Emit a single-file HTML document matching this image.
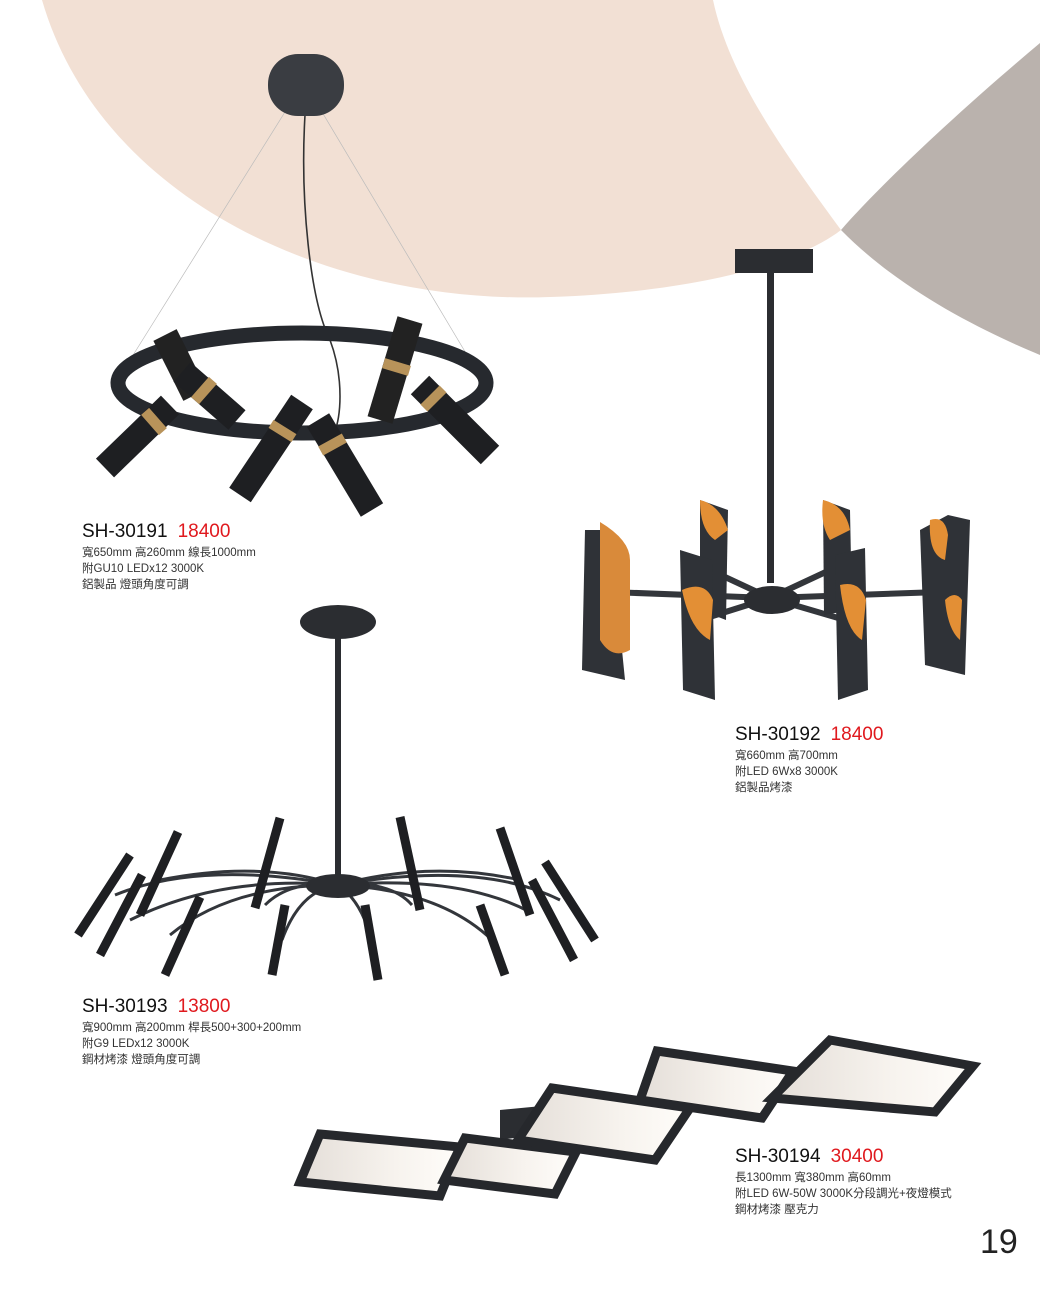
<!DOCTYPE html>
<html><head><meta charset="utf-8"><style>
html,body{margin:0;padding:0;background:#fff}
#p{position:relative;width:1040px;height:1300px;overflow:hidden;background:#fff;font-family:"Liberation Sans","Noto Sans CJK TC",sans-serif;color:#222}
svg{position:absolute;left:0;top:0}
.t{position:absolute;line-height:16px;font-size:11.5px;color:#333}
.t b{display:block;font-weight:normal;font-size:19px;line-height:22px;color:#111;margin-bottom:2px}
.t b span{color:#e0191e;margin-left:10px}
</style></head><body><div id="p">
<svg width="1040" height="1300" viewBox="0 0 1040 1300">
<defs><linearGradient id="g" x1="0" y1="0" x2="1" y2="0"><stop offset="0" stop-color="#e4ded8"/><stop offset="0.6" stop-color="#f7f3ee"/><stop offset="1" stop-color="#fffdfa"/></linearGradient></defs>
<path d="M42,0 C100,200 330,305 550,297 C700,292 800,262 841,230 C790,160 730,80 713,0 Z" fill="#f2e0d4"/>
<path d="M1040,43 C960,110 880,185 841,230 C900,290 980,330 1040,355 Z" fill="#bab2ad"/>
<!-- lamp 1 -->
<g stroke="#bbb" stroke-width="0.7"><line x1="285" y1="112" x2="130" y2="360"/><line x1="322" y1="112" x2="470" y2="360"/></g>
<path d="M305,115 C300,200 310,300 330,340 C345,380 340,420 335,430" stroke="#333" stroke-width="1.6" fill="none"/>
<rect x="268" y="54" width="76" height="62" rx="30" fill="#3a3d42"/>
<ellipse cx="302" cy="383" rx="184" ry="50" fill="none" stroke="#26292e" stroke-width="15"/>
<g stroke-linecap="butt" stroke-width="26">
<line x1="165" y1="335" x2="195" y2="395" stroke="#222"/>
<line x1="410" y1="320" x2="380" y2="420" stroke="#222"/>
<line x1="105" y1="468" x2="170" y2="405" stroke="#1e1f22"/>
<line x1="182" y1="372" x2="237" y2="420" stroke="#1e1f22"/>
<line x1="240" y1="495" x2="302" y2="402" stroke="#1e1f22"/>
<line x1="318" y1="420" x2="372" y2="510" stroke="#1e1f22"/>
<line x1="420" y1="385" x2="490" y2="455" stroke="#1e1f22"/>
</g>
<g stroke="#b8935a" stroke-width="27">
<line x1="150" y1="425" x2="158" y2="418"/><line x1="200" y1="387" x2="208" y2="394"/>
<line x1="280" y1="435" x2="285" y2="427"/><line x1="330" y1="440" x2="335" y2="449"/>
<line x1="430" y1="395" x2="437" y2="402"/><line x1="395" y1="372" x2="398" y2="362"/>
</g>
<!-- lamp 2 -->
<rect x="735" y="249" width="78" height="24" fill="#2b2d31"/>
<rect x="767" y="273" width="7" height="310" fill="#2b2d31"/>
<g stroke="#33363b" stroke-width="6">
<line x1="770" y1="598" x2="610" y2="592"/><line x1="770" y1="598" x2="940" y2="592"/>
<line x1="770" y1="598" x2="710" y2="570"/><line x1="770" y1="598" x2="830" y2="570"/>
<line x1="770" y1="598" x2="700" y2="620"/><line x1="770" y1="598" x2="845" y2="620"/>
</g>
<ellipse cx="772" cy="600" rx="28" ry="14" fill="#2b2d31"/>
<g fill="#2f3237">
<path d="M585,530 L610,530 L625,680 L582,670 Z"/><path d="M600,522 Q630,540 630,560 L630,650 Q612,660 600,640 Z" fill="#d98a3a"/>
<path d="M700,500 L728,510 L726,620 L700,610 Z"/><path d="M680,550 L712,560 L715,700 L683,690 Z"/>
<path d="M823,500 L850,510 L852,610 L824,615 Z"/><path d="M835,555 L865,548 L868,690 L838,700 Z"/>
<path d="M920,530 L948,515 L970,520 L965,675 L925,665 Z"/>
</g>
<g fill="#e38f35">
<path d="M700,500 Q720,505 728,530 L715,540 Q700,530 700,500 Z"/><path d="M823,500 Q845,505 850,530 L830,540 Q820,525 823,500 Z"/>
<path d="M682,590 Q705,580 713,600 L710,640 Q690,630 682,590 Z"/><path d="M840,585 Q860,580 866,600 L862,640 Q845,630 840,585 Z"/>
<path d="M930,520 Q945,515 948,535 L945,560 Q928,555 930,520 Z"/><path d="M945,600 Q955,590 962,600 L960,640 Q948,630 945,600 Z"/>
</g>
<!-- lamp 3 -->
<ellipse cx="338" cy="622" rx="38" ry="17" fill="#2b2d31"/>
<rect x="335" y="635" width="6" height="245" fill="#2b2d31"/>
<g stroke="#33363b" stroke-width="3" fill="none">
<path d="M338,885 Q200,860 115,895"/><path d="M338,885 Q220,875 130,920"/><path d="M338,885 Q230,885 170,935"/>
<path d="M338,885 Q290,880 265,905"/><path d="M338,885 Q300,890 282,940"/><path d="M338,885 Q360,900 370,935"/>
<path d="M338,885 Q390,880 412,905"/><path d="M338,885 Q440,890 492,940"/><path d="M338,885 Q460,875 530,912"/>
<path d="M338,885 Q480,860 560,900"/><path d="M338,885 Q260,860 160,880"/><path d="M338,885 Q430,860 520,880"/>
</g>
<ellipse cx="338" cy="886" rx="32" ry="12" fill="#2b2d31"/>
<g stroke="#1e1f22" stroke-width="9">
<line x1="78" y1="935" x2="130" y2="855"/><line x1="100" y1="955" x2="142" y2="875"/><line x1="140" y1="915" x2="178" y2="832"/>
<line x1="165" y1="975" x2="200" y2="897"/><line x1="255" y1="908" x2="280" y2="818"/><line x1="272" y1="975" x2="285" y2="905"/>
<line x1="378" y1="980" x2="365" y2="905"/><line x1="420" y1="910" x2="400" y2="817"/><line x1="505" y1="975" x2="480" y2="905"/>
<line x1="530" y1="915" x2="500" y2="828"/><line x1="574" y1="960" x2="532" y2="880"/><line x1="595" y1="940" x2="545" y2="862"/>
</g>
<!-- lamp 4 -->
<path d="M500,1110 L710,1090 L708,1110 L500,1140 Z" fill="#2b2d31"/>
<g fill="url(#g)" stroke="#26282c" stroke-width="9" stroke-linejoin="miter">
<path d="M320,1134 L460,1147 L440,1196 L300,1182 Z"/>
<path d="M465,1138 L576,1152 L555,1194 L444,1180 Z"/>
<path d="M552,1088 L690,1108 L655,1160 L518,1140 Z"/>
<path d="M657,1051 L793,1071 L762,1118 L640,1100 Z"/>
<path d="M830,1040 L973,1066 L935,1112 L772,1098 Z"/>
</g>
</svg>
<div class="t" style="left:82px;top:521px"><b>SH-30191<span>18400</span></b>寬650mm 高260mm 線長1000mm<br>附GU10 LEDx12 3000K<br>鋁製品 燈頭角度可調</div>
<div class="t" style="left:735px;top:724px"><b>SH-30192<span>18400</span></b>寬660mm 高700mm<br>附LED 6Wx8 3000K<br>鋁製品烤漆</div>
<div class="t" style="left:82px;top:996px"><b>SH-30193<span>13800</span></b>寬900mm 高200mm 桿長500+300+200mm<br>附G9 LEDx12 3000K<br>鋼材烤漆 燈頭角度可調</div>
<div class="t" style="left:735px;top:1146px"><b>SH-30194<span>30400</span></b>長1300mm 寬380mm 高60mm<br>附LED 6W-50W 3000K分段調光+夜燈模式<br>鋼材烤漆 壓克力</div>
<div style="position:absolute;left:980px;top:1222px;font-size:34px;line-height:40px;color:#222">19</div>
</div></body></html>
